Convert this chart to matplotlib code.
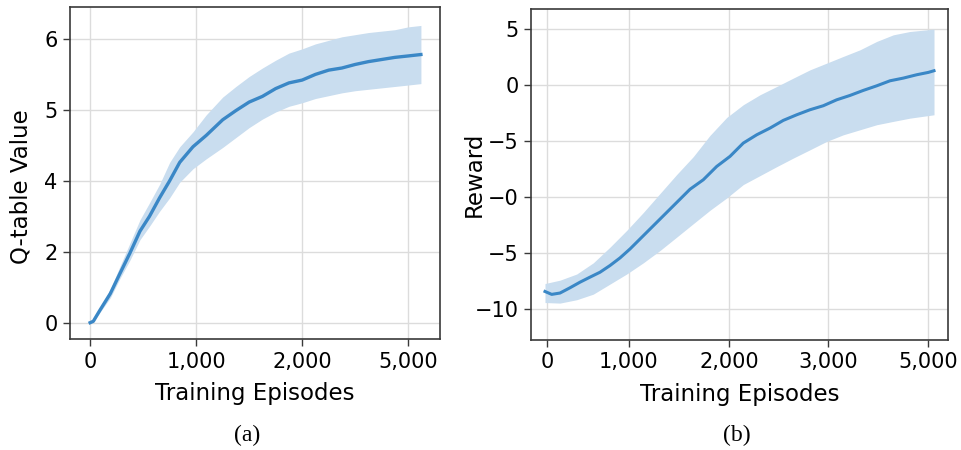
import numpy as np
import matplotlib
matplotlib.use("Agg")
import matplotlib.pyplot as plt

# ---- (a) Q-table value: x and y are in tick-slot units (ticks evenly spaced, labels not)
qa_x = [0, 30, 90, 190, 280, 375, 470, 560, 655, 750, 845, 970, 1095, 1250, 1375, 1500,
        1625, 1750, 1875, 2000, 2125, 2250, 2375, 2500, 2625, 2750, 2875, 3000, 3120]
qa_mean = [0.0, 0.02, 0.17, 0.41, 0.69, 0.98, 1.29, 1.50, 1.76, 2.00, 2.26, 2.48, 2.64, 2.86,
           2.99, 3.11, 3.19, 3.30, 3.38, 3.42, 3.50, 3.56, 3.59, 3.64, 3.68, 3.71, 3.74, 3.76, 3.78]
qa_upper = [0.0, 0.03, 0.20, 0.47, 0.79, 1.12, 1.45, 1.69, 1.95, 2.26, 2.48, 2.69, 2.93, 3.18,
            3.33, 3.47, 3.59, 3.70, 3.80, 3.86, 3.93, 3.98, 4.03, 4.06, 4.09, 4.11, 4.13, 4.17, 4.19]
qa_lower = [0.0, 0.01, 0.14, 0.35, 0.62, 0.88, 1.17, 1.36, 1.57, 1.76, 1.98, 2.17, 2.31, 2.47,
            2.61, 2.75, 2.87, 2.97, 3.05, 3.10, 3.16, 3.20, 3.24, 3.27, 3.29, 3.31, 3.33, 3.35, 3.37]
qa_xticks = [0, 1000, 2000, 3000]
qa_xlabels = ["0", "1,000", "2,000", "5,000"]
qa_yticks = [0, 1, 2, 3, 4]
qa_ylabels = ["0", "2", "4", "5", "6"]

# ---- (b) reward
rb_x = [-20, 47, 130, 230, 330, 430, 530, 630, 730, 830, 930, 1030, 1130, 1230, 1330, 1430,
        1563, 1697, 1830, 1963, 2097, 2230, 2363, 2497, 2630, 2763, 2897, 3030, 3163, 3297,
        3430, 3563, 3697, 3813, 3870]
rb_mean = [-18.46, -18.72, -18.60, -18.13, -17.63, -17.18, -16.74, -16.14, -15.46, -14.66,
           -13.77, -12.88, -11.99, -11.10, -10.21, -9.32, -8.47, -7.28, -6.38, -5.19, -4.45,
           -3.85, -3.16, -2.66, -2.21, -1.85, -1.32, -0.93, -0.48, -0.07, 0.38, 0.62, 0.92,
           1.13, 1.28]
rb_band_x = [-20, 130, 297, 463, 630, 797, 963, 1130, 1297, 1463, 1630, 1797, 1963, 2130,
             2297, 2463, 2630, 2797, 2963, 3130, 3297, 3463, 3630, 3870]
rb_upper = [-17.75, -17.45, -16.9, -15.9, -14.5, -13.0, -11.4, -9.7, -8.0, -6.4, -4.5,
            -2.9, -1.76, -0.87, -0.13, 0.62, 1.36, 1.96, 2.56, 3.15, 3.90, 4.49, 4.79, 5.0]
rb_lower = [-19.45, -19.5, -19.2, -18.7, -17.8, -16.9, -15.9, -14.8, -13.6, -12.4,
            -11.2, -10.1, -8.9, -8.1, -7.3, -6.53, -5.79, -5.04, -4.45, -4.00, -3.55,
            -3.25, -2.96, -2.66]
rb_xticks = [0, 820, 1820, 2810, 3810]
rb_xlabels = ["0", "1,000", "2,000", "3,000", "5,000"]
rb_yticks = [5, 0, -5, -10, -15, -20]
rb_ylabels = ["5", "0", "\u22125", "\u22120", "\u22125", "\u221210"]

line_c = "#3a87c6"
band_c = "#c9ddef"
tick_fs = 15
label_fs = 16.5

fig = plt.figure(figsize=(9.62, 4.5), dpi=100)
ax1 = fig.add_axes([70 / 962, 1 - 339 / 450, 370 / 962, 332 / 450])
ax2 = fig.add_axes([531 / 962, 1 - 340 / 450, 417 / 962, 331 / 450])


def style(ax):
    ax.grid(True, color="#dcdcdc", linewidth=1.0)
    ax.set_axisbelow(True)
    for s in ax.spines.values():
        s.set_color("#3a3a3a")
        s.set_linewidth(1.2)
    ax.tick_params(axis="both", labelsize=tick_fs, length=5, width=1.0,
                   color="#3a3a3a", pad=4)


ax1.fill_between(qa_x, qa_lower, qa_upper, color=band_c, linewidth=0)
ax1.plot(qa_x, qa_mean, color=line_c, linewidth=2.4)
ax1.set_xlim(-190, 3300)
ax1.set_ylim(-0.23, 4.45)
ax1.set_xticks(qa_xticks)
ax1.set_xticklabels(qa_xlabels)
ax1.set_yticks(qa_yticks)
ax1.set_yticklabels(qa_ylabels)
ax1.set_xlabel("Training Episodes", fontsize=label_fs)
ax1.set_ylabel("Q-table Value", fontsize=label_fs)
ax1.yaxis.set_label_coords(-0.1, 0.46)
ax1.xaxis.set_label_coords(0.5, -0.13)
style(ax1)

ax2.fill_between(rb_band_x, rb_lower, rb_upper, color=band_c, linewidth=0)
ax2.plot(rb_x, rb_mean, color=line_c, linewidth=2.2)
ax2.set_xlim(-160, 4010)
ax2.set_ylim(-22.8, 6.8)
ax2.set_xticks(rb_xticks)
ax2.set_xticklabels(rb_xlabels)
ax2.set_yticks(rb_yticks)
ax2.set_yticklabels(rb_ylabels)
ax2.set_xlabel("Training Episodes", fontsize=label_fs)
ax2.set_ylabel("Reward", fontsize=label_fs)
ax2.yaxis.set_label_coords(-0.108, 0.5)
ax2.xaxis.set_label_coords(0.5, -0.13)
style(ax2)

fig.text(247 / 962, 1 - 435 / 450, "(a)", family="Liberation Serif", fontsize=17,
         ha="center", va="center")
fig.text(737 / 962, 1 - 435 / 450, "(b)", family="Liberation Serif", fontsize=17,
         ha="center", va="center")

fig.savefig("out.png", dpi=100)
